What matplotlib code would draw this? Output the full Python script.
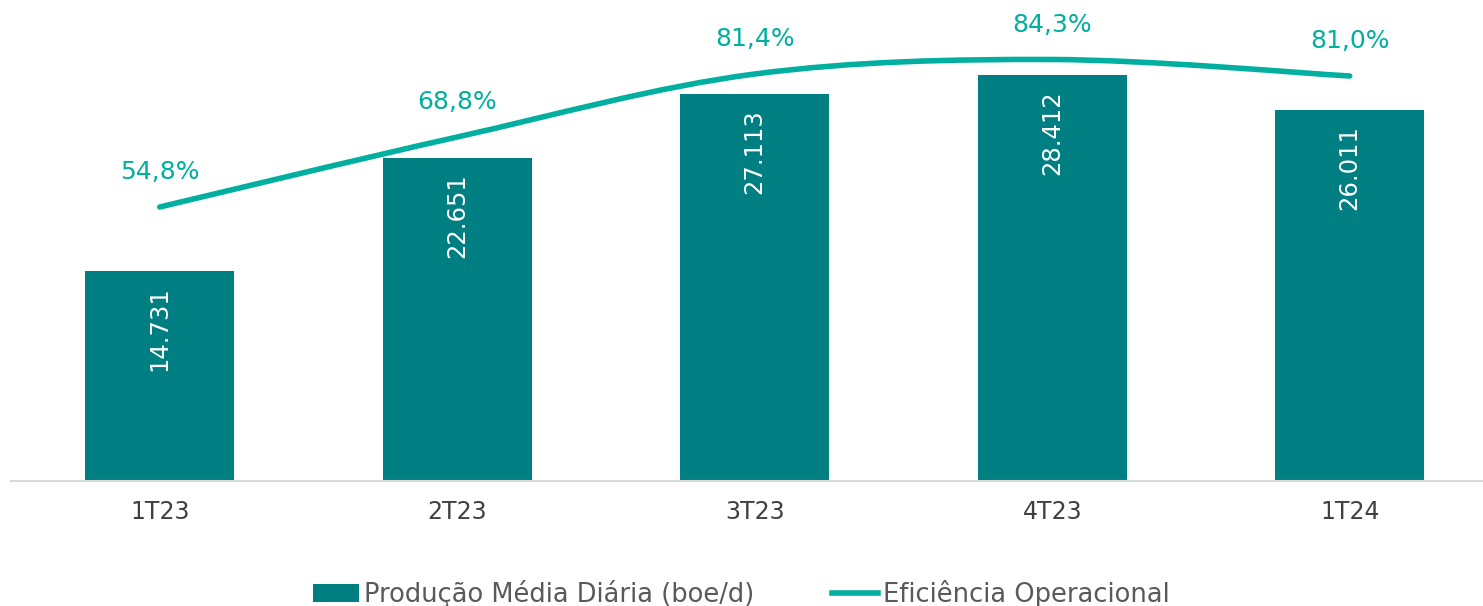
import matplotlib.pyplot as plt
from matplotlib.path import Path
from matplotlib.patches import PathPatch
from matplotlib.lines import Line2D
from matplotlib.patches import Patch

# Data
quarters = ['1T23', '2T23', '3T23', '4T23', '1T24']
producao = [14731, 22651, 27113, 28412, 26011]
eficiencia = [0.548, 0.688, 0.814, 0.843, 0.810]

BAR_COLOR = '#007F82'
LINE_COLOR = '#00AFA0'
TEXT_COLOR = '#404040'

plt.rcParams['font.family'] = ['DejaVu Sans']

fig = plt.figure(figsize=(14.83, 6.06), dpi=100)
ax = fig.add_axes([11 / 1483, 125 / 606, 1487.5 / 1483, 481 / 606])

x = list(range(len(quarters)))
ax.bar(x, producao, width=0.5, color=BAR_COLOR, zorder=2)
ax.set_xlim(-0.5, 4.5)
ax.set_ylim(0, 33680)

for xi, v in zip(x, producao):
    label = f'{v:,}'.replace(',', '.')
    ax.annotate(label, (xi, v), xytext=(0, -11), textcoords='offset points',
                rotation=90, ha='center', va='top', color='white', fontsize=17.5)

for s in ['top', 'right', 'left']:
    ax.spines[s].set_visible(False)
ax.spines['bottom'].set_color('#D9D9D9')
ax.spines['bottom'].set_linewidth(1.5)
ax.set_yticks([])
ax.set_xticks(x)
ax.set_xticklabels(quarters, fontsize=17, color=TEXT_COLOR)
ax.tick_params(axis='x', length=0, pad=14)

# secondary axis for the smoothed line
ax2 = ax.twinx()
ax2.set_ylim(0, 0.962)
ax2.set_axis_off()

# smooth line through the points (cubic bezier, Excel-like)
pts = list(zip(x, eficiencia))
verts = [pts[0]]
codes = [Path.MOVETO]
n = len(pts)
for i in range(n - 1):
    p0 = pts[max(i - 1, 0)]
    p1 = pts[i]
    p2 = pts[i + 1]
    p3 = pts[min(i + 2, n - 1)]
    c1 = (p1[0] + (p2[0] - p0[0]) / 6, p1[1] + (p2[1] - p0[1]) / 6)
    c2 = (p2[0] - (p3[0] - p1[0]) / 6, p2[1] - (p3[1] - p1[1]) / 6)
    verts += [c1, c2, p2]
    codes += [Path.CURVE4, Path.CURVE4, Path.CURVE4]
ax2.add_patch(PathPatch(Path(verts, codes), facecolor='none', edgecolor=LINE_COLOR,
                        lw=4, capstyle='round', zorder=3))

for xi, v in zip(x, eficiencia):
    label = f'{v * 100:.1f}%'.replace('.', ',')
    ax2.annotate(label, (xi, v), xytext=(0, 25), textcoords='offset points',
                 ha='center', va='center', color=LINE_COLOR, fontsize=18)

handles = [Patch(facecolor=BAR_COLOR), Line2D([0], [0], color=LINE_COLOR, lw=4)]
labels = ['Produção Média Diária (boe/d)', 'Eficiência Operacional']
fig.legend(handles, labels, loc='center', bbox_to_anchor=(0.5, 0.02), ncol=2,
           frameon=False, fontsize=18.5, labelcolor='#595959', handlelength=1.8,
           handletextpad=0.2, columnspacing=3)

fig.savefig('out.png', dpi=100)
